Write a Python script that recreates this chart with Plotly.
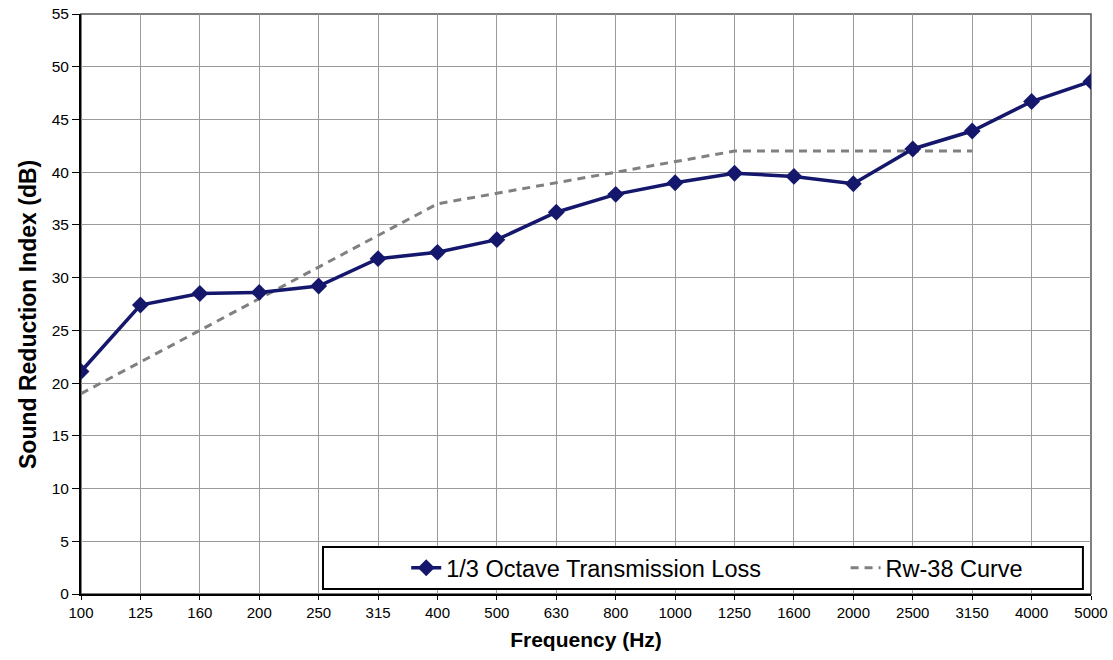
import plotly.graph_objects as go

freqs = ["100", "125", "160", "200", "250", "315", "400", "500", "630", "800",
         "1000", "1250", "1600", "2000", "2500", "3150", "4000", "5000"]
tl_values = [21.1, 27.4, 28.5, 28.6, 29.2, 31.8, 32.4, 33.6, 36.2, 37.9,
             39.0, 39.9, 39.6, 38.9, 42.2, 43.9, 46.7, 48.6]
rw_freqs = ["100", "125", "160", "200", "250", "315", "400", "500", "630", "800",
            "1000", "1250", "1600", "2000", "2500", "3150"]
rw_values = [19, 22, 25, 28, 31, 34, 37, 38, 39, 40, 41, 42, 42, 42, 42, 42]
y_ticks = list(range(0, 56, 5))

fig = go.Figure()
fig.add_trace(go.Scatter(
    x=rw_freqs, y=rw_values, mode="lines", name="Rw-38 Curve",
    line=dict(color="#808080", width=3, dash="8px,6px"), legend="legend2",
))
fig.add_trace(go.Scatter(
    x=freqs, y=tl_values, mode="lines+markers", name="1/3 Octave Transmission Loss",
    line=dict(color="#14176b", width=3.5),
    marker=dict(symbol="diamond", size=13, color="#14176b"), legend="legend",
))

leg_common = dict(orientation="h", yanchor="middle", xanchor="left",
                  bgcolor="rgba(0,0,0,0)", font=dict(size=23.5))
fig.update_layout(
    width=1113, height=660,
    margin=dict(l=81, r=22, t=14, b=66),
    plot_bgcolor="white", paper_bgcolor="white",
    font=dict(family="Liberation Sans, Arial", color="black"),
    showlegend=True,
    legend=dict(x=0.322, y=0.0448, **leg_common),
    legend2=dict(x=0.757, y=0.0448, **leg_common),
    shapes=[dict(type="rect", xref="paper", yref="paper",
                 x0=0.2396, x1=0.992, y0=0.0086, y1=0.081,
                 line=dict(color="black", width=2), fillcolor="white", layer="above")],
    annotations=[dict(text="<b>Sound Reduction Index (dB)</b>", textangle=-90,
                      xref="paper", yref="paper", x=-(81 - 28) / 1010, y=(594 - 315) / 580,
                      xanchor="center", yanchor="middle", showarrow=False,
                      font=dict(size=23))],
)
fig.update_xaxes(
    type="category", categoryorder="array", categoryarray=freqs,
    range=[0, 17], showgrid=True, gridcolor="#9a9a9a", gridwidth=1,
    showline=True, linecolor="black", linewidth=2, mirror=False,
    ticks="outside", ticklen=4, tickcolor="black", automargin=False,
    tickfont=dict(size=15),
    title=dict(text="<b>Frequency (Hz)</b>", font=dict(size=21), standoff=12),
)
fig.update_yaxes(
    range=[0, 55], tickvals=y_ticks, showgrid=True, gridcolor="#9a9a9a", gridwidth=1,
    showline=True, linecolor="black", linewidth=2, zeroline=False,
    ticks="outside", ticklen=7, tickcolor="black", automargin=False,
    tickfont=dict(size=15.5),
)
# top/right frame
fig.add_shape(type="rect", xref="paper", yref="paper", x0=0, x1=1, y0=0, y1=1,
              line=dict(color="#555555", width=1.5), layer="below")
fig.write_html("out.html", config={"displayModeBar": False},
               post_script="document.body.style.margin='0';document.body.style.padding='0';")
